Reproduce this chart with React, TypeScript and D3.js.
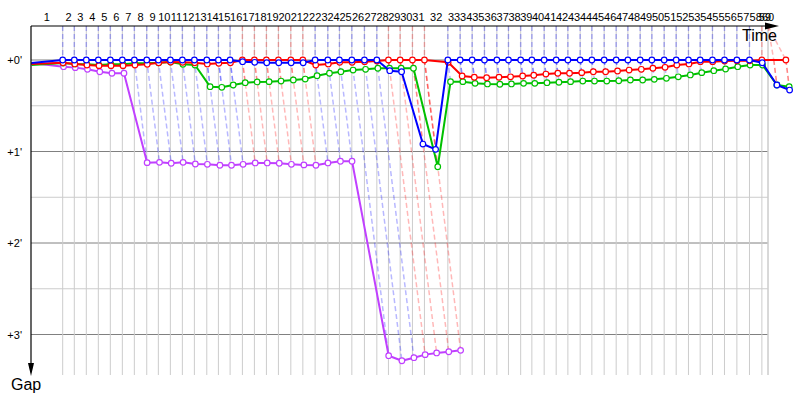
import React from "react";
import * as d3 from "d3";

// Leader's lap durations (seconds), laps 1..60
const leaderLapSeconds = [
  166.8, 61.1, 63.2, 63.2, 63.2, 63.2, 63.2, 65.3, 61.1, 63.2,
  63.2, 63.2, 65.3, 61.1, 61.6, 64.7, 63.2, 63.2, 63.2, 65.3,
  63.2, 64.7, 66.8, 61.1, 65.3, 66.3, 65.3, 61.1, 61.6, 64.7,
  63.2, 123.2, 64.7, 63.2, 64.7, 65.3, 61.1, 64.2, 59.0, 64.7,
  63.2, 61.6, 64.7, 61.6, 64.7, 63.2, 61.6, 64.7, 61.6, 64.7,
  63.2, 64.7, 61.6, 64.7, 63.2, 65.3, 66.3, 65.3, 62.6, 63.7,
];

// Gap to the leader (seconds) at the end of each lap, lap 0..60
const blueGaps: (number | null)[] = [
  2.0,
  0, 0, 0, 0, 0, 0, 0, 0, 0, 0, 0, 0, 0, 0, 0,
  1.1, 1.5, 1.8, 1.8, 1.8, 1.8,
  0, 0, 0, 0, 0, 0,
  7.0, 7.7, 55.1, 58.6,
  0, 0, 0, 0, 0, 0, 0, 0, 0, 0, 0, 0, 0, 0, 0, 0, 0, 0, 0, 0, 0, 0, 0, 0, 0, 0,
  1.8, 16.4, 19.7,
];

const redGaps: (number | null)[] = [
  2.6,
  1.8, 2.6, 3.3, 3.7, 3.7, 3.7, 3.3, 2.8, 1.8, 1.3, 1.5, 1.8, 2.6, 2.2, 1.8,
  0, 0, 0, 0, 0, 0,
  3.3, 2.6, 1.5, 1.5, 1.1, 0.7,
  0, 0, 0, 0,
  1.5,
  10.5, 11.3, 11.6, 11.3, 11.0, 10.5, 10.0, 9.2, 8.7, 8.7, 8.3, 7.7, 7.7,
  7.2, 6.6, 6.1, 5.4, 4.8, 3.3, 2.6, 1.1, 1.1, 0.7, 0.5, 0.5,
  0, null, 0,
];

const greenGaps: (number | null)[] = [
  3.3,
  2.0, 2.6, 2.8, 3.3, 2.8, 2.8, 2.2, 2.2, 1.8, 1.3, 2.8, 3.3,
  17.5, 17.9, 16.4, 14.9, 14.4, 14.2, 13.8, 13.1, 12.5, 10.3, 8.7, 7.7,
  6.6, 6.1, 5.4, 5.4, 5.4, 5.4,
  70.0,
  14.2, 14.2, 15.3, 15.7, 15.9, 15.7, 15.3, 15.3, 14.9, 14.6, 14.2, 13.8,
  13.8, 13.8, 13.6, 13.1, 13.1, 12.7, 12.0, 11.0, 9.8, 8.3, 7.0, 5.9,
  4.4, 3.3, 3.3, 16.4, 17.5,
];

const purpleGaps: (number | null)[] = [
  2.0,
  4.4, 5.0, 6.1, 7.7, 8.7, 8.7,
  67.3, 67.1, 67.7, 67.1, 68.2, 68.4, 69.0, 69.0, 68.4, 67.5, 67.5, 67.7,
  68.4, 68.8, 69.0, 67.5, 66.4, 66.4,
  193.9, 197.2, 195.2, 193.2, 192.1, 191.3, 190.4,
];

const drivers = [
  { name: "purple", color: "#c040ff", gaps: purpleGaps },
  { name: "green", color: "#00c000", gaps: greenGaps },
  { name: "red", color: "#ff0000", gaps: redGaps },
  { name: "blue", color: "#0000ff", gaps: blueGaps },
];

const gapMajorMinutes = [0, 1, 2, 3];
const gapMinorMinutes = [0.5, 1.5, 2.5];
const gapTickLabels = ["+0'", "+1'", "+2'", "+3'"];
const timeAxisEnd = 3879; // seconds covered by the time axis

const W = 800;
const H = 400;
const left = 31;
const right = 768;
const top = 26;
const bottom = 375;
const font = "'Liberation Sans', Arial, sans-serif";

export default function App() {
  const refTimes = [0];
  leaderLapSeconds.forEach((s, i) => refTimes.push(refTimes[i] + s));
  const laps = d3.range(1, refTimes.length);

  const x = d3.scaleLinear().domain([0, timeAxisEnd]).range([left, right]);
  const y = d3.scaleLinear().domain([0, 180]).range([60, 334.5]);
  const xc = (t: number) => x(Math.min(t, timeAxisEnd));

  type Pt = { lap: number; gap: number };
  const pts = (g: (number | null)[]): Pt[] =>
    g.map((v, lap) => ({ lap, gap: v as number })).filter((p) => p.gap != null);

  const line = d3
    .line<Pt>()
    .x((p) => x(refTimes[p.lap] + p.gap))
    .y((p) => y(p.gap));

  // leader colour per lap (car at zero gap, else previous leader)
  const leaderColor: string[] = [];
  let last = drivers[3].color;
  refTimes.forEach((_, lap) => {
    const d = drivers.find((dr) => dr.gaps[lap] === 0);
    if (d) last = d.color;
    leaderColor[lap] = last;
  });

  const dashed: { d: string; color: string; key: string }[] = [];
  laps.forEach((lap) => {
    const rt = refTimes[lap];
    const c = leaderColor[lap];
    dashed.push({
      key: `t${lap}`,
      color: c,
      d: `M${xc(rt)},${top}L${x(rt)},${y(0)}`,
    });
    drivers.forEach((dr) => {
      const g = dr.gaps[lap];
      if (g == null || g === 0) return;
      dashed.push({
        key: `${dr.name}${lap}`,
        color: c,
        d: `M${x(rt)},${y(0)}L${x(rt + g)},${y(g)}`,
      });
    });
  });

  return (
    <svg
      width={W}
      height={H}
      style={{ position: "absolute", left: 0, top: 0, background: "#fff" }}
      fontFamily={font}
    >
      <rect width={W} height={H} fill="#fff" />
      {/* horizontal gap grid */}
      {gapMinorMinutes.map((m) => (
        <line key={`mn${m}`} x1={left} x2={right} y1={y(m * 60)} y2={y(m * 60)} stroke="#cccccc" />
      ))}
      {gapMajorMinutes.map((m) => (
        <line key={`mj${m}`} x1={left} x2={right} y1={y(m * 60)} y2={y(m * 60)} stroke="#808080" />
      ))}
      {/* lap grid */}
      {laps.map((lap) => (
        <line
          key={`v${lap}`}
          x1={xc(refTimes[lap])}
          x2={xc(refTimes[lap])}
          y1={top}
          y2={bottom}
          stroke="#cccccc"
        />
      ))}
      {/* lap links */}
      {dashed.map((l) => (
        <path
          key={l.key}
          d={l.d}
          fill="none"
          stroke={l.color}
          strokeOpacity={0.28}
          strokeWidth={1.5}
          strokeDasharray="5,3"
        />
      ))}
      {/* drivers */}
      {drivers.map((dr) => {
        const p = pts(dr.gaps);
        return (
          <g key={dr.name}>
            <path d={line(p) || ""} fill="none" stroke={dr.color} strokeWidth={2} strokeLinejoin="round" />
            {p
              .filter((q) => q.lap > 0)
              .map((q) => (
                <circle
                  key={q.lap}
                  cx={x(refTimes[q.lap] + q.gap)}
                  cy={y(q.gap)}
                  r={2.8}
                  fill="#fff"
                  stroke={dr.color}
                  strokeWidth={1.2}
                />
              ))}
          </g>
        );
      })}
      {/* axes */}
      <line x1={left} x2={766} y1={top} y2={top} stroke="#000" strokeWidth={1.2} />
      <path d={`M765,${top - 3.5}L779,${top}L765,${top + 3.5}Z`} fill="#000" />
      <line x1={left} x2={left} y1={top} y2={364} stroke="#000" strokeWidth={1.2} />
      <path d={`M${left - 3},363L${left},376L${left + 3},363Z`} fill="#000" />
      {/* lap numbers */}
      {laps.map((lap) => (
        <text
          key={`l${lap}`}
          x={(xc(refTimes[lap - 1]) + xc(refTimes[lap])) / 2}
          y={21}
          fontSize={11}
          textAnchor="middle"
          fill="#000"
        >
          {lap}
        </text>
      ))}
      {gapMajorMinutes.map((m, i) => (
        <text key={`g${m}`} x={22} y={y(m * 60) + 4} fontSize={11} textAnchor="end" fill="#000">
          {gapTickLabels[i]}
        </text>
      ))}
      <text x={777} y={40.5} fontSize={16} textAnchor="end" fill="#000">
        Time
      </text>
      <text x={11} y={390} fontSize={16} fill="#000">
        Gap
      </text>
    </svg>
  );
}
